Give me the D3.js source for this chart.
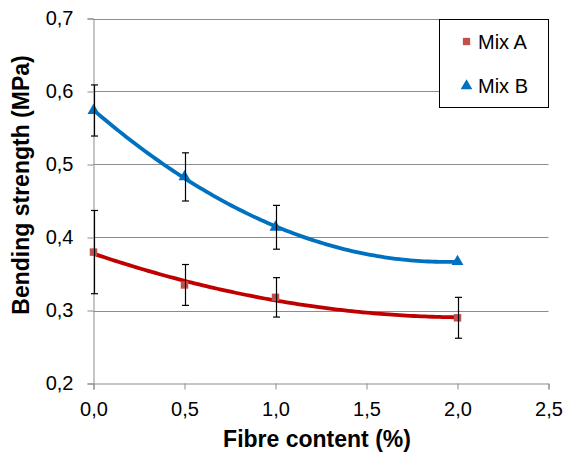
<!DOCTYPE html>
<html>
<head>
<meta charset="utf-8">
<script src="https://cdn.jsdelivr.net/npm/d3@7"></script>
<style>
  html, body { margin: 0; padding: 0; background: #fff; }
  svg { display: block; font-family: "Liberation Sans", Arial, sans-serif; }
</style>
</head>
<body>
<svg id="chart" width="565" height="455"></svg>
<script>
// Fibre content (%) for each test series
const fibreContent = [0.0, 0.5, 1.0, 2.0];

// Mean bending strength (MPa) and standard deviation
const mixA = [0.380, 0.335, 0.318, 0.290];
const mixAErr = [0.057, 0.028, 0.027, 0.028];
const mixB = [0.574, 0.483, 0.414, 0.367];
const mixBErr = [0.035, 0.033, 0.030, 0.0];

const seriesNames = ["Mix A", "Mix B"];
const xTicks = [0, 0.5, 1.0, 1.5, 2.0, 2.5];
const yTicks = [0.2, 0.3, 0.4, 0.5, 0.6, 0.7];

const svg = d3.select("#chart");
const plot = { left: 93.5, top: 18.5, right: 548.5, bottom: 383.5 };

const x = d3.scaleLinear().domain([0, 2.5]).range([plot.left, plot.right]);
const y = d3.scaleLinear().domain([0.2, 0.7]).range([plot.bottom, plot.top]);
const fmt = v => d3.format(".1f")(v).replace(".", ",");

const gridColor = "#8c8c8c";

// horizontal gridlines
svg.append("g")
  .selectAll("line")
  .data(yTicks.slice(1))
  .join("line")
  .attr("x1", plot.left).attr("x2", plot.right)
  .attr("y1", d => Math.round(y(d)) + 0.5).attr("y2", d => Math.round(y(d)) + 0.5)
  .attr("stroke", gridColor).attr("stroke-width", 1);

// y axis
const yAxis = svg.append("g")
  .attr("transform", `translate(${plot.left},0)`)
  .call(d3.axisLeft(y).tickValues(yTicks).tickFormat(fmt).tickSize(6).tickPadding(14));
yAxis.select(".domain").attr("stroke", gridColor);
yAxis.selectAll(".tick line").attr("stroke", gridColor);
yAxis.selectAll(".tick text")
  .attr("font-size", 20).attr("fill", "#000")
  .attr("font-family", "Liberation Sans, Arial, sans-serif");

// x axis
const xAxis = svg.append("g")
  .attr("transform", `translate(0,${plot.bottom})`)
  .call(d3.axisBottom(x).tickValues(xTicks).tickFormat(fmt).tickSize(6).tickPadding(12));
xAxis.select(".domain").attr("stroke", gridColor);
xAxis.selectAll(".tick line").attr("stroke", gridColor);
xAxis.selectAll(".tick text")
  .attr("font-size", 20).attr("fill", "#000")
  .attr("font-family", "Liberation Sans, Arial, sans-serif");

// axis titles
svg.append("text")
  .attr("x", 317).attr("y", 447)
  .attr("text-anchor", "middle")
  .attr("font-size", 23).attr("font-weight", "bold")
  .text("Fibre content (%)");

svg.append("text")
  .attr("transform", "translate(29,185) rotate(-90)")
  .attr("text-anchor", "middle")
  .attr("font-size", 23).attr("font-weight", "bold")
  .text("Bending strength (MPa)");

// second-order polynomial least-squares fit (trendline)
function quadFit(xs, ys) {
  const n = xs.length;
  let s = [0, 0, 0, 0, 0], t = [0, 0, 0];
  for (let i = 0; i < n; i++) {
    const xi = xs[i], yi = ys[i];
    for (let k = 0; k <= 4; k++) s[k] += Math.pow(xi, k);
    for (let k = 0; k <= 2; k++) t[k] += yi * Math.pow(xi, k);
  }
  const M = [[s[0], s[1], s[2], t[0]], [s[1], s[2], s[3], t[1]], [s[2], s[3], s[4], t[2]]];
  for (let c = 0; c < 3; c++) {
    for (let r = c + 1; r < 3; r++) {
      const f = M[r][c] / M[c][c];
      for (let k = c; k < 4; k++) M[r][k] -= f * M[c][k];
    }
  }
  const coef = [0, 0, 0];
  for (let r = 2; r >= 0; r--) {
    let v = M[r][3];
    for (let k = r + 1; k < 3; k++) v -= M[r][k] * coef[k];
    coef[r] = v / M[r][r];
  }
  return xv => coef[0] + coef[1] * xv + coef[2] * xv * xv;
}

const series = [
  { name: seriesNames[0], values: mixA, err: mixAErr, line: "#c00000", marker: "#c0504d", shape: d3.symbolSquare, size: 56 },
  { name: seriesNames[1], values: mixB, err: mixBErr, line: "#0070c0", marker: "#0070c0", shape: d3.symbolTriangle, size: 62 }
];

const line = d3.line().x(d => x(d[0])).y(d => y(d[1]));

series.forEach(s => {
  const f = quadFit(fibreContent, s.values);
  const xmax = d3.max(fibreContent);
  const pts = d3.range(0, 101).map(i => {
    const xv = xmax * i / 100;
    return [xv, f(xv)];
  });
  svg.append("path")
    .datum(pts)
    .attr("d", line)
    .attr("fill", "none")
    .attr("stroke", s.line)
    .attr("stroke-width", 3.8)
    .attr("stroke-linejoin", "round");
});

series.forEach(s => {
  const g = svg.append("g");
  g.selectAll("path")
    .data(fibreContent.map((fc, i) => [fc, s.values[i]]))
    .join("path")
    .attr("d", d3.symbol().type(s.shape).size(s.size))
    .attr("transform", d => `translate(${x(d[0])},${y(d[1])})`)
    .attr("fill", s.marker);
});

// error bars
series.forEach(s => {
  const data = fibreContent.map((fc, i) => ({ x: fc, v: s.values[i], e: s.err[i] })).filter(d => d.e > 0);
  const g = svg.append("g").attr("stroke", "#000").attr("stroke-width", 1.2);
  data.forEach(d => {
    const cx = Math.round(x(d.x)) + 0.5;
    g.append("line").attr("x1", cx).attr("x2", cx).attr("y1", y(d.v - d.e)).attr("y2", y(d.v + d.e));
    g.append("line").attr("x1", cx - 3.5).attr("x2", cx + 3.5).attr("y1", y(d.v - d.e)).attr("y2", y(d.v - d.e));
    g.append("line").attr("x1", cx - 3.5).attr("x2", cx + 3.5).attr("y1", y(d.v + d.e)).attr("y2", y(d.v + d.e));
  });
});

// legend
const legend = svg.append("g");
legend.append("rect")
  .attr("x", 439.5).attr("y", 19.5).attr("width", 109).attr("height", 88)
  .attr("fill", "#fff").attr("stroke", "#000").attr("stroke-width", 1);
series.forEach((s, i) => {
  const cy = 41.5 + i * 44.5;
  legend.append("path")
    .attr("d", d3.symbol().type(s.shape).size(s.size * 0.95))
    .attr("transform", `translate(466.5,${cy})`)
    .attr("fill", s.marker);
  legend.append("text")
    .attr("x", 478).attr("y", cy + 7)
    .attr("font-size", 20)
    .text(s.name);
});
</script>
</body>
</html>
